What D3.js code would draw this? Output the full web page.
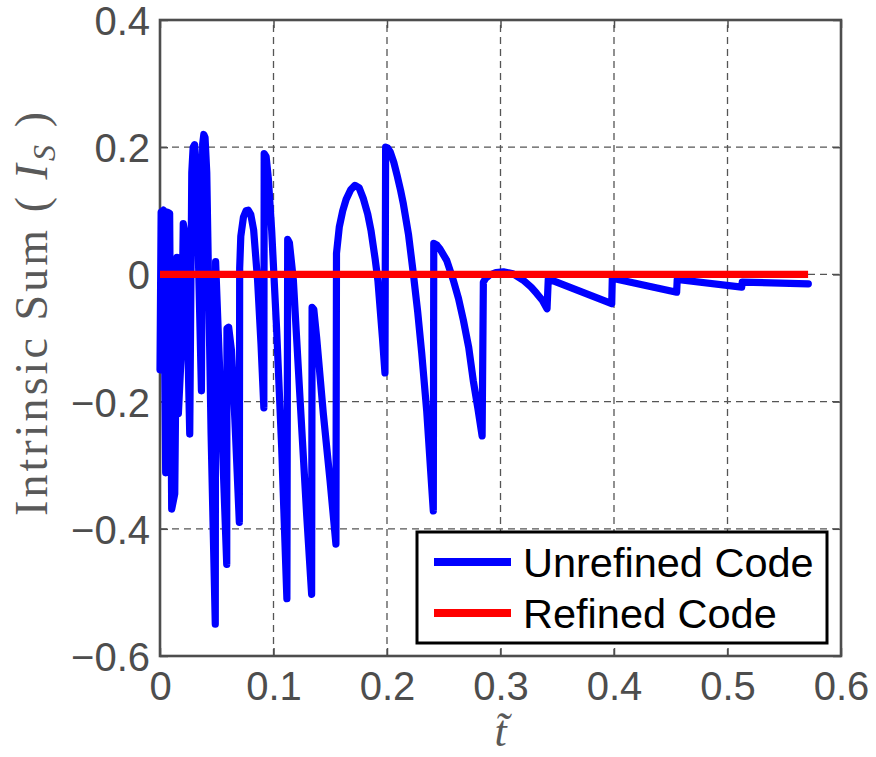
<!DOCTYPE html>
<html>
<head>
<meta charset="utf-8">
<script src="https://cdn.jsdelivr.net/npm/d3@7"></script>
<style>
  html, body { margin: 0; padding: 0; background: #fff; }
  svg { display: block; }
</style>
</head>
<body>
<svg id="chart" width="876" height="757"></svg>
<script>
// ---------------- data ----------------
const xTicks = [0, 0.1, 0.2, 0.3, 0.4, 0.5, 0.6];
const yTicks = [-0.6, -0.4, -0.2, 0, 0.2, 0.4];
const seriesNames = ["Unrefined Code", "Refined Code"];
const seriesColors = ["#0000ff", "#ff0000"];

const tUnrefined = [
  0.0000, 0.0010, 0.0030, 0.0050, 0.0065, 0.0085, 0.0103, 0.0130, 0.0150, 0.0162,
  0.0190, 0.0205, 0.0225, 0.0262, 0.0280, 0.0292, 0.0305, 0.0320, 0.0365, 0.0376, 0.0386, 0.0397,
  0.0412, 0.0450, 0.0487,
  0.0490, 0.0530, 0.0588,
  0.0590, 0.0605, 0.0630, 0.0660, 0.0699,
  0.0702, 0.0712, 0.0735, 0.0758, 0.0778, 0.0800, 0.0825, 0.0860, 0.0890, 0.0915,
  0.0918, 0.0935, 0.0955, 0.0984, 0.1028, 0.1072, 0.1118,
  0.1125, 0.1140, 0.1175, 0.1233, 0.1292, 0.1336,
  0.1340, 0.1355, 0.1380, 0.1439, 0.1498, 0.1550,
  0.1555, 0.1580, 0.1610, 0.1640, 0.1680, 0.1718, 0.1755, 0.1790, 0.1830, 0.1860, 0.1895, 0.1920, 0.1960, 0.1982,
  0.1988, 0.2005, 0.2030, 0.2060, 0.2090, 0.2120, 0.2144, 0.2190, 0.2232, 0.2270, 0.2306, 0.2350, 0.2408,
  0.2412, 0.2440, 0.2467, 0.2526, 0.2584, 0.2630, 0.2673, 0.2720, 0.2760, 0.2800, 0.2838,
  0.2849, 0.2870, 0.2905, 0.2960, 0.3025, 0.3110, 0.3200, 0.3270, 0.3319, 0.3370, 0.3410,
  0.3421, 0.3980,
  0.3985, 0.4552,
  0.4557, 0.5125,
  0.5130, 0.5712
];
const vUnrefined = [
  -0.150, 0.098, 0.101, -0.312, 0.098, 0.096, -0.369, -0.345, 0.027, -0.219,
  -0.114, 0.080, 0.060, -0.251, 0.160, 0.200, 0.204, 0.170, -0.183, 0.205, 0.220, 0.215,
  0.160, -0.250, -0.550,
  0.020, -0.170, -0.456,
  -0.085, -0.083, -0.120, -0.230, -0.390,
  0.010, 0.060, 0.090, 0.100, 0.101, 0.094, 0.070, -0.010, -0.110, -0.210,
  0.190, 0.185, 0.150, 0.069, -0.088, -0.272, -0.510,
  0.055, 0.050, -0.009, -0.193, -0.377, -0.503,
  -0.052, -0.055, -0.099, -0.219, -0.324, -0.424,
  0.033, 0.075, 0.100, 0.118, 0.133, 0.140, 0.136, 0.120, 0.095, 0.068, 0.025, -0.010, -0.100, -0.155,
  0.200, 0.199, 0.192, 0.176, 0.155, 0.132, 0.111, 0.062, 0.001, -0.058, -0.124, -0.215, -0.372,
  0.049, 0.046, 0.040, 0.022, -0.009, -0.038, -0.072, -0.115, -0.167, -0.210, -0.254,
  -0.012, -0.006, -0.001, 0.003, 0.004, 0.001, -0.009, -0.020, -0.030, -0.041, -0.054,
  -0.007, -0.046,
  -0.006, -0.028,
  -0.008, -0.020,
  -0.012, -0.015
];
const tRefined = [0.0, 0.571];
const vRefined = [0.0, 0.0];

// ---------------- layout ----------------
const svg = d3.select("#chart");
const x = d3.scaleLinear().domain([0, 0.6]).range([160, 841]);
const y = d3.scaleLinear().domain([-0.6, 0.4]).range([656, 20]);
const axisColor = "#4d4d4d";
const tickFont = "'Liberation Sans', Arial, Helvetica, sans-serif";
const serifFont = "'Liberation Serif', 'Times New Roman', serif";

// grid
const grid = svg.append("g");
grid.selectAll("line.gx").data(xTicks).join("line")
  .attr("x1", d => x(d)).attr("x2", d => x(d))
  .attr("y1", y(-0.6)).attr("y2", y(0.4))
  .attr("stroke", "#555").attr("stroke-width", 1.3).attr("stroke-dasharray", "7,5");
grid.selectAll("line.gy").data(yTicks).join("line")
  .attr("x1", x(0)).attr("x2", x(0.6))
  .attr("y1", d => y(d)).attr("y2", d => y(d))
  .attr("stroke", "#555").attr("stroke-width", 1.3).attr("stroke-dasharray", "7,5");

// axes (ticks inward, labels)
const fmt = d => d === 0 ? "0" : d3.format(".1f")(d);
const tickLen = 8;
const gB = svg.append("g").attr("transform", `translate(0,${y(-0.6)})`)
  .call(d3.axisBottom(x).tickValues(xTicks).tickFormat(fmt).tickSizeInner(-tickLen).tickSizeOuter(0).tickPadding(16));
const gL = svg.append("g").attr("transform", `translate(${x(0)},0)`)
  .call(d3.axisLeft(y).tickValues(yTicks).tickFormat(fmt).tickSizeInner(-tickLen).tickSizeOuter(0).tickPadding(10));
const gT = svg.append("g").attr("transform", `translate(0,${y(0.4)})`)
  .call(d3.axisTop(x).tickValues(xTicks).tickFormat("").tickSizeInner(-tickLen).tickSizeOuter(0));
const gR = svg.append("g").attr("transform", `translate(${x(0.6)},0)`)
  .call(d3.axisRight(y).tickValues(yTicks).tickFormat("").tickSizeInner(-tickLen).tickSizeOuter(0));
[gB, gL, gT, gR].forEach(g => {
  g.select(".domain").remove();
  g.selectAll(".tick line").attr("stroke", axisColor).attr("stroke-width", 1.5);
  g.selectAll(".tick text").attr("fill", axisColor).style("font-family", tickFont).style("font-size", "40px");
});
gB.selectAll(".tick text").attr("dy", "0.71em");
gL.selectAll(".tick text").attr("dy", "0.36em");

// box
svg.append("rect")
  .attr("x", x(0)).attr("y", y(0.4))
  .attr("width", x(0.6) - x(0)).attr("height", y(-0.6) - y(0.4))
  .attr("fill", "none").attr("stroke", axisColor).attr("stroke-width", 2.6);

// lines
const line = d3.line().x(d => x(d[0])).y(d => y(d[1]));
const unref = tUnrefined.map((t, i) => [t, vUnrefined[i]]);
const ref = tRefined.map((t, i) => [t, vRefined[i]]);
svg.append("path").datum(unref).attr("d", line)
  .attr("fill", "none").attr("stroke", seriesColors[0]).attr("stroke-width", 7.2)
  .attr("stroke-linejoin", "round").attr("stroke-linecap", "round");
svg.append("path").datum(ref).attr("d", line)
  .attr("fill", "none").attr("stroke", seriesColors[1]).attr("stroke-width", 7.2)
  .attr("stroke-linecap", "butt");

// axis titles
svg.append("text")
  .attr("transform", "translate(47,314) rotate(-90)")
  .attr("text-anchor", "middle")
  .attr("fill", "#595959")
  .style("font-family", serifFont).style("font-size", "46px")
  .attr("textLength", 404).attr("lengthAdjust", "spacing")
  .call(t => {
    t.append("tspan").text("Intrinsic Sum ( ");
    t.append("tspan").style("font-style", "italic").text("I");
    t.append("tspan").attr("dy", 8).style("font-style", "italic").style("font-size", "32px").text("S");
    t.append("tspan").attr("dy", -8).text(" )");
  });
svg.append("text").attr("x", x(0.3)).attr("y", 746).attr("text-anchor", "middle")
  .attr("fill", "#595959").style("font-family", serifFont)
  .style("font-style", "italic").style("font-size", "44px").text("t\u0303");

// legend
const lg = svg.append("g");
lg.append("rect").attr("x", 417).attr("y", 532).attr("width", 410).attr("height", 111)
  .attr("fill", "#fff").attr("stroke", "#000").attr("stroke-width", 3);
seriesNames.forEach((name, i) => {
  const cy = 562 + i * 51;
  lg.append("line").attr("x1", 434).attr("x2", 511).attr("y1", cy).attr("y2", cy)
    .attr("stroke", seriesColors[i]).attr("stroke-width", 8);
  lg.append("text").attr("x", 523).attr("y", cy + 15)
    .style("font-family", tickFont).style("font-size", "41.5px").attr("fill", "#000").text(name);
});
</script>
</body>
</html>
